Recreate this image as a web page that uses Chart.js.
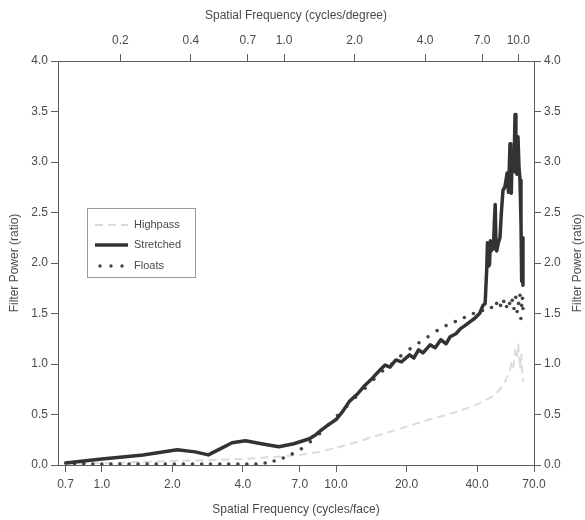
<!DOCTYPE html>
<html>
<head>
<meta charset="utf-8">
<script src="https://cdn.jsdelivr.net/npm/chart.js@4.4.1/dist/chart.umd.min.js"></script>
<style>
  html, body { margin: 0; padding: 0; background: #fff; }
  #wrap { width: 585px; height: 520px; }
</style>
</head>
<body>
<div id="wrap"><canvas id="filter_canvas"></canvas></div>
<script>
// cycles/face ticks (bottom) and cycles/degree ticks (top)
var faceTicks = [0.7, 1, 2, 4, 7, 10, 20, 40, 70];
var degreeTicks = [0.2, 0.4, 0.7, 1, 2, 4, 7, 10];
var powerTicks = [0, 0.5, 1, 1.5, 2, 2.5, 3, 3.5, 4];
var facePerDegree = 6;

var highpassF = [0.7, 1.0, 1.5, 2.0, 3.0, 4.0, 5.5, 7.0, 8.5, 10, 12, 14, 17, 20, 25, 30, 35, 40, 45, 48, 50, 52, 53.5, 55, 56, 57, 58, 59, 60, 61, 61.8, 62.4, 63];
var highpassP = [0.01, 0.02, 0.03, 0.04, 0.05, 0.06, 0.08, 0.1, 0.13, 0.17, 0.22, 0.27, 0.33, 0.38, 0.45, 0.5, 0.55, 0.6, 0.66, 0.7, 0.75, 0.8, 0.86, 0.92, 1.0, 0.95, 1.12, 1.05, 1.2, 0.95, 1.1, 0.9, 0.82];

var stretchedF = [0.7, 0.8, 1.0, 1.5, 2.1, 2.5, 2.85, 3.2, 3.6, 4.1, 4.8, 5.7, 6.6, 7.7, 8.2, 8.7, 9.3, 10, 10.6, 11.4, 12.3, 13.3, 14.3, 15.4, 16.2, 17, 18, 19, 20.6, 21.5, 22.5, 23.5, 25.2, 26.5, 28, 29.5, 30.7, 32.5, 34, 35.5, 37.4, 39, 41, 42.4, 43.3, 44, 44.3, 44.6, 44.9, 45.2, 45.6, 46, 46.5, 47, 47.4, 47.8, 48.2, 48.5, 49.3, 50.1, 50.8, 51.6, 52.5, 53.2, 53.7, 54.5, 55.3, 55.7, 56, 56.5, 56.9, 57.5, 58.1, 58.6, 59.2, 59.8, 60.4, 61, 61.6, 62.0, 62.4, 62.8];
var stretchedP = [0.02, 0.035, 0.06, 0.1, 0.15, 0.13, 0.1, 0.16, 0.22, 0.24, 0.21, 0.18, 0.21, 0.26, 0.3, 0.35, 0.4, 0.45, 0.52, 0.63, 0.7, 0.79, 0.86, 0.94, 0.99, 0.97, 1.04, 1.02, 1.09, 1.06, 1.14, 1.11, 1.19, 1.16, 1.24, 1.2, 1.27, 1.3, 1.35, 1.38, 1.42, 1.45, 1.5, 1.58, 1.6, 1.95, 2.2, 1.97, 2.18, 1.98, 2.22, 2.12, 2.2, 2.14, 2.4, 2.58, 2.15, 2.12, 2.2, 2.25, 2.5, 2.72, 2.75, 2.82, 2.89, 2.7, 3.18, 2.75, 2.69, 3.12, 2.9, 2.95, 3.47, 2.9, 2.88, 3.25, 2.95, 2.82, 2.4, 1.82, 2.25, 1.78];

var floatsF = [0.7, 0.765, 0.837, 0.915, 1.0, 1.093, 1.195, 1.307, 1.428, 1.561, 1.707, 1.866, 2.04, 2.23, 2.44, 2.67, 2.91, 3.19, 3.48, 3.81, 4.16, 4.55, 4.98, 5.44, 5.95, 6.5, 7.11, 7.77, 8.5, 9.29, 10.15, 11.1, 12.1, 13.3, 14.5, 15.8, 17.3, 18.9, 20.7, 22.6, 24.7, 27.0, 29.5, 32.3, 35.3, 38.6, 42.2, 46.1, 48.5, 50.4, 52, 53.5, 55.1, 56.5, 57.5, 58.5, 59.3, 60.2, 61, 61.5, 62, 62.5, 62.8];
var floatsP = [0.02, 0.015, 0.015, 0.01, 0.01, 0.01, 0.01, 0.01, 0.01, 0.01, 0.01, 0.01, 0.01, 0.01, 0.01, 0.01, 0.01, 0.01, 0.01, 0.01, 0.01, 0.01, 0.02, 0.04, 0.07, 0.11, 0.16, 0.23, 0.31, 0.4, 0.49, 0.58, 0.67, 0.76, 0.85, 0.93, 1.0, 1.08, 1.15, 1.21, 1.27, 1.33, 1.38, 1.42, 1.46, 1.5, 1.53, 1.56, 1.6, 1.58, 1.62, 1.57, 1.6, 1.63, 1.55, 1.66, 1.52, 1.6, 1.68, 1.45, 1.58, 1.65, 1.55];

function toPoints(xs, ys) {
    var pts = [];
    for (var i = 0; i < xs.length; i++) {
        pts.push({x: xs[i], y: ys[i]});
    }
    return pts;
}

var textColor = '#4a4a4a';
var axisColor = '#5e5e5e';
var fontFamily = '"Liberation Sans", Arial, Helvetica, sans-serif';

function fixedTicks(vals) {
    return function(scale) {
        scale.ticks = vals.map(function(v) { return {value: v}; });
    };
}

var legendBox = {
    id: 'legendBox',
    afterDatasetsDraw: function(chart) {
        var ctx = chart.ctx;
        ctx.save();
        ctx.strokeStyle = '#9a9a9a';
        ctx.lineWidth = 1;
        ctx.strokeRect(87.5, 208.5, 108, 69);
        ctx.font = '11px ' + fontFamily;
        ctx.fillStyle = textColor;
        ctx.textBaseline = 'middle';
        var rows = [225, 245, 266];
        var names = ['Highpass', 'Stretched', 'Floats'];
        for (var i = 0; i < 3; i++) {
            ctx.fillText(names[i], 134, rows[i]);
        }
        // highpass sample
        ctx.strokeStyle = '#dcdcdc';
        ctx.lineWidth = 2;
        ctx.setLineDash([8, 5]);
        ctx.beginPath(); ctx.moveTo(95, rows[0]); ctx.lineTo(128, rows[0]); ctx.stroke();
        ctx.setLineDash([]);
        // stretched sample
        ctx.strokeStyle = '#333';
        ctx.lineWidth = 3.5;
        ctx.beginPath(); ctx.moveTo(95, rows[1]); ctx.lineTo(128, rows[1]); ctx.stroke();
        // floats sample
        ctx.fillStyle = '#444';
        [100, 111, 122].forEach(function(x) {
            ctx.beginPath(); ctx.arc(x, rows[2], 1.7, 0, Math.PI * 2); ctx.fill();
        });
        // right-hand axis title, reading bottom to top like the left one
        var a = chart.chartArea;
        ctx.translate(578, (a.top + a.bottom) / 2);
        ctx.rotate(-Math.PI / 2);
        ctx.textAlign = 'center';
        ctx.font = '12px ' + fontFamily;
        ctx.fillStyle = textColor;
        ctx.fillText('Filter Power (ratio)', 0, 0);
        ctx.restore();
    }
};

var tickFont = {family: fontFamily, size: 12};
var titleFont = {family: fontFamily, size: 12};

var chartdata = {
    datasets: [
        {
            label: 'Highpass',
            data: toPoints(highpassF, highpassP),
            borderColor: '#dcdcdc',
            borderWidth: 2,
            borderDash: [8, 5],
            pointRadius: 0,
            fill: false,
            order: 3
        },
        {
            label: 'Stretched',
            data: toPoints(stretchedF, stretchedP),
            borderColor: '#333',
            borderWidth: 3.5,
            pointRadius: 0,
            fill: false,
            borderJoinStyle: 'round',
            order: 1
        },
        {
            label: 'Floats',
            data: toPoints(floatsF, floatsP),
            showLine: false,
            pointRadius: 1.8,
            pointBackgroundColor: '#444',
            pointBorderWidth: 0,
            order: 2
        }
    ]
};

var options = {
    responsive: false,
    animation: false,
    layout: {padding: 0},
    plugins: {
        legend: {display: false},
        tooltip: {enabled: false}
    },
    scales: {
        x: {
            type: 'logarithmic',
            position: 'bottom',
            min: 0.65,
            max: 70,
            afterBuildTicks: fixedTicks(faceTicks),
            afterFit: function(s) { s.height = 55; },
            grid: {drawOnChartArea: false, tickLength: 7, color: axisColor},
            border: {color: axisColor},
            ticks: {
                autoSkip: false, maxRotation: 0, padding: 5,
                color: textColor, font: tickFont,
                callback: function(v) { return Number(v).toFixed(1); }
            },
            title: {display: true, text: 'Spatial Frequency (cycles/face)', color: textColor, font: titleFont, padding: {top: 0, bottom: 3}}
        },
        xTop: {
            type: 'logarithmic',
            position: 'top',
            min: 0.65 / facePerDegree,
            max: 70 / facePerDegree,
            afterBuildTicks: fixedTicks(degreeTicks),
            afterFit: function(s) { s.height = 61; },
            grid: {drawOnChartArea: false, tickLength: 7, color: axisColor},
            border: {color: axisColor},
            ticks: {
                autoSkip: false, maxRotation: 0, padding: 6,
                color: textColor, font: tickFont,
                callback: function(v) { return Number(v).toFixed(1); }
            },
            title: {display: true, text: 'Spatial Frequency (cycles/degree)', color: textColor, font: titleFont, padding: {top: 8, bottom: 0}}
        },
        y: {
            position: 'left',
            min: 0,
            max: 4,
            afterBuildTicks: fixedTicks(powerTicks),
            afterFit: function(s) { s.width = 58; },
            grid: {drawOnChartArea: false, tickLength: 7, color: axisColor},
            border: {color: axisColor},
            ticks: {
                padding: 3, color: textColor, font: tickFont,
                callback: function(v) { return Number(v).toFixed(1); }
            },
            title: {display: true, text: 'Filter Power (ratio)', color: textColor, font: titleFont, padding: {top: 7, bottom: 0}}
        },
        yRight: {
            position: 'right',
            min: 0,
            max: 4,
            afterBuildTicks: fixedTicks(powerTicks),
            afterFit: function(s) { s.width = 51; },
            grid: {drawOnChartArea: false, tickLength: 7, color: axisColor},
            border: {color: axisColor},
            ticks: {
                padding: 3, color: textColor, font: tickFont,
                callback: function(v) { return Number(v).toFixed(1); }
            },
            title: {display: false}
        }
    }
};

var ctx2 = document.getElementById('filter_canvas');
ctx2.width = 585;
ctx2.height = 520;
var chart = new Chart(ctx2, {
    type: 'line',
    data: chartdata,
    options: options,
    plugins: [legendBox]
});
</script>
</body>
</html>
